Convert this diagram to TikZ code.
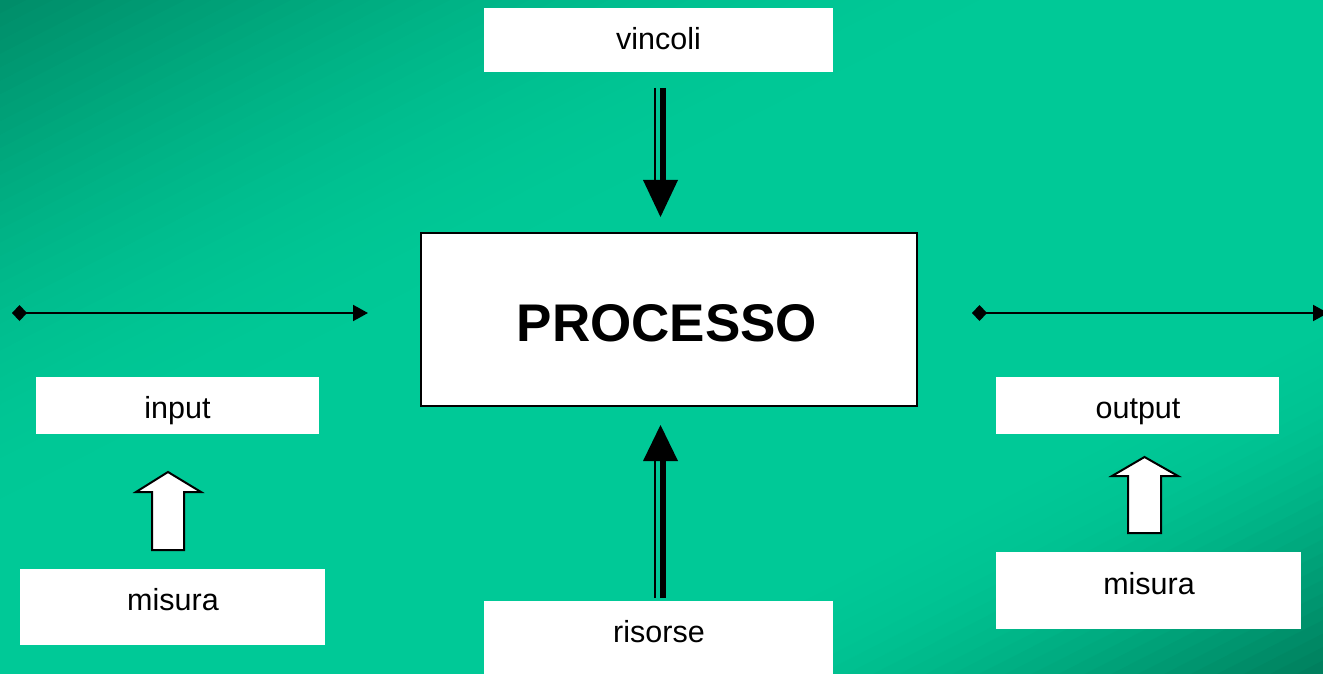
\documentclass[tikz,border=0pt]{standalone}
\usepackage{fontspec}
\setmainfont{Liberation Sans}
\usetikzlibrary{arrows.meta}
\definecolor{bgdarkA}{RGB}{0,140,104}
\definecolor{bgbright}{RGB}{0,201,151}
\definecolor{bgdarkB}{RGB}{0,125,92}
\tikzset{
  wbox/.style={fill=white, draw=none, inner sep=0pt, anchor=north west},
  lbl/.style={anchor=base, inner sep=0pt, font=\fontsize{30.5}{36}\selectfont},
  hconn/.style={line width=2pt, {Diamond[length=15pt,width=16pt]}-{Triangle[length=15pt,width=16pt]}},
  blockarrow/.style={fill=white, draw=black, line width=2pt, line join=miter},
  headfill/.style={fill=black}
}
\begin{document}
\begin{tikzpicture}[x=1pt,y=-1pt]
\useasboundingbox (0,0) rectangle (1323,674);
% background gradient
\begin{scope}
\clip (0,0) rectangle (1323,674);
\fill[bgbright] (0,0) rectangle (1323,674);
\foreach \i in {0,...,99}{
  \pgfmathsetmacro{\sa}{\i/50}
  \pgfmathsetmacro{\sb}{(\i+1.4)/50}
  \pgfmathsetmacro{\tt}{(\i+0.5)/100}
  \pgfmathsetmacro{\pa}{\tt<0.4 ? 100*sin(90*\tt/0.4) : 100}
  \pgfmathsetmacro{\pb}{\tt>0.73 ? 100*sin(90*(1-\tt)/0.27) : 100}
  \pgfmathsetmacro{\xa}{1323*(\sa+1)}
  \pgfmathsetmacro{\xb}{1323*(\sa-2)}
  \pgfmathsetmacro{\xc}{1323*(\sb-2)}
  \pgfmathsetmacro{\xd}{1323*(\sb+1)}
  \ifdim\tt pt<0.5pt
    \colorlet{stripcol}{bgbright!\pa!bgdarkA}
  \else
    \colorlet{stripcol}{bgbright!\pb!bgdarkB}
  \fi
  \fill[stripcol] (\xa,-674) -- (\xb,1348) -- (\xc,1348) -- (\xd,-674) -- cycle;
}
\end{scope}

% boxes
\node[wbox, minimum width=349pt, minimum height=64pt] (vincoli) at (484,8) {};
\node[wbox, minimum width=496pt, minimum height=173pt, draw=black, line width=2pt] (processo) at (420,232) {};
\node[wbox, minimum width=283pt, minimum height=57pt] (input) at (36,377) {};
\node[wbox, minimum width=283pt, minimum height=57pt] (output) at (996,377) {};
\node[wbox, minimum width=305pt, minimum height=76pt] (misuraL) at (20,569) {};
\node[wbox, minimum width=305pt, minimum height=77pt] (misuraR) at (996,552) {};
\node[wbox, minimum width=349pt, minimum height=80pt] (risorse) at (484,601) {};

% texts
\node[lbl] (vincolit) at (658.5,50) {vincoli};
\node[anchor=base, inner sep=0pt, font=\fontsize{53}{60}\selectfont\bfseries] (processot) at (667,341) {PROCESSO};
\node[lbl] (inputt) at (177.5,418) {input};
\node[lbl] (outputt) at (1138,418) {output};
\node[lbl] (misuraLt) at (173,610.5) {misura};
\node[lbl] (misuraRt) at (1149,594.5) {misura};
\node[lbl] (risorset) at (659,642.5) {risorse};

% horizontal connectors
\coordinate (inA) at (12,313);
\coordinate (inB) at (368,313);
\coordinate (outA) at (972,313);
\coordinate (outB) at (1328,313);
\draw[hconn] (inA) -- (inB);
\draw[hconn] (outA) -- (outB);

% vincoli -> processo
\coordinate (vS) at (660.5,88);
\coordinate (vE) at (660.5,217);
\draw[line width=2pt] ([xshift=-5.5pt]vS) -- ([xshift=-5.5pt,yshift=35pt]vE);
\draw[line width=6pt] ([xshift=2.5pt]vS) -- ([xshift=2.5pt,yshift=35pt]vE);
\fill[headfill] ([xshift=-17.5pt,yshift=37pt]vE) -- ([xshift=17.5pt,yshift=37pt]vE) -- (vE) -- cycle;

% risorse -> processo
\coordinate (rS) at (660.5,598);
\coordinate (rE) at (660.5,425);
\draw[line width=2pt] ([xshift=-5.5pt]rS) -- ([xshift=-5.5pt,yshift=-34pt]rE);
\draw[line width=6pt] ([xshift=2.5pt]rS) -- ([xshift=2.5pt,yshift=-34pt]rE);
\fill[headfill] ([xshift=-17.5pt,yshift=-36pt]rE) -- ([xshift=17.5pt,yshift=-36pt]rE) -- (rE) -- cycle;

% block arrows
\draw[blockarrow] (152,550) -- (152,492) -- (136,492) -- (168,472) -- (201,492) -- (184,492) -- (184,550) -- cycle;
\draw[blockarrow] (1128,533) -- (1128,476) -- (1112,476) -- (1144.5,457) -- (1178,476) -- (1161,476) -- (1161,533) -- cycle;
\end{tikzpicture}
\end{document}
